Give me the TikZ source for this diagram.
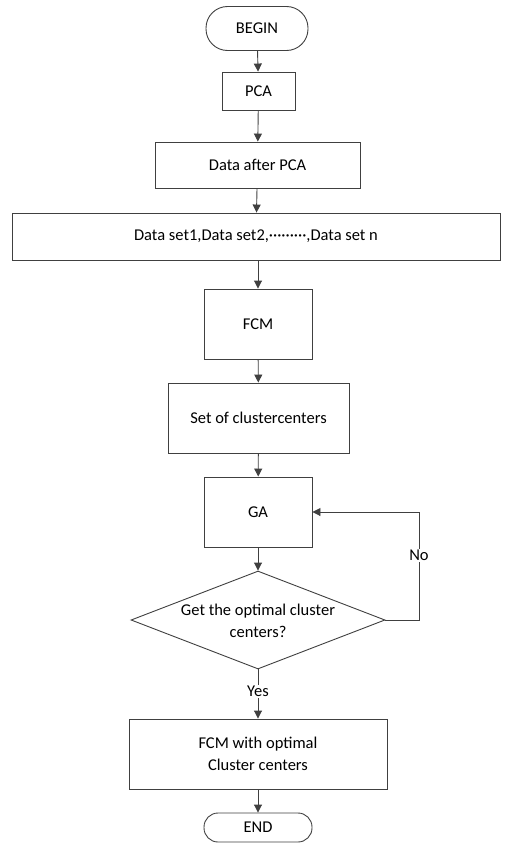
\documentclass[tikz,border=0pt]{standalone}
\usepackage{fontspec}
\setmainfont{Carlito}
\usetikzlibrary{arrows.meta,shapes.geometric,shadows}
\definecolor{ln}{HTML}{404040}
\begin{document}
\begin{tikzpicture}[x=1pt,y=-1pt,
  every node/.style={font=\fontsize{16.5}{22}\selectfont, text=black},
  box/.style={draw=ln, line width=0.9pt, fill=white, rectangle, inner sep=0pt, align=center,
     drop shadow={shadow xshift=1.2pt, shadow yshift=-1.2pt, fill=black!30, opacity=0.6}},
  term/.style={draw=ln, line width=0.9pt, fill=white, rectangle, inner sep=0pt},
  arr/.style={draw=ln, line width=0.9pt, -{Triangle[width=8pt,length=8pt]}},
  lab/.style={fill=white, inner sep=1pt}]
\useasboundingbox (0,0) rectangle (505,862);
\node[term, rounded corners=21.5pt, minimum width=102pt, minimum height=44pt] (begin) at (257,28.5) {BEGIN};
\node[box, minimum width=73pt, minimum height=38pt] (pca) at (258.5,91) {PCA};
\node[box, minimum width=205pt, minimum height=46pt] (dap) at (257.5,165) {Data after PCA};
\node[box, minimum width=488pt, minimum height=47pt] (ds) at (256,236.5) {Data set1,Data set2,·········,Data set n};
\node[box, minimum width=108pt, minimum height=70pt] (fcm) at (258,324) {FCM};
\node[box, minimum width=181pt, minimum height=70pt] (set) at (258.5,418) {Set of clustercenters};
\node[box, minimum width=108pt, minimum height=70pt] (ga) at (258,512) {GA};
\node[draw=ln, line width=0.9pt, fill=white, diamond, inner sep=0pt, minimum width=254pt, minimum height=98pt, aspect=2.59] (dec) at (258,620) {};
\node[align=center] (dectxt) at (258,621) {Get the optimal cluster\\centers?};
\node[box, minimum width=258pt, minimum height=70pt] (fcmo) at (258,754) {FCM with optimal\\Cluster centers};
\node[term, rounded corners=14pt, minimum width=108pt, minimum height=29pt] (end) at (258,827.5) {END};
\coordinate (cr) at (419,620);
\coordinate (ct) at (419,512);
\draw[arr] (begin) -- (pca);
\draw[arr] (pca) -- (dap);
\draw[arr] (dap) -- (ds);
\draw[arr] (ds.south -| fcm.north) -- (fcm);
\draw[arr] (fcm) -- (set);
\draw[arr] (set) -- (ga);
\draw[arr] (ga) -- (dec);
\draw[arr] (dec.south) -- node[lab, pos=0.45] {Yes} (fcmo.north);
\draw[arr] (fcmo) -- (end);
\draw[arr] (dec.east) -- (cr) -- node[lab, pos=0.6] {No} (ct) -- (ga.east);
\end{tikzpicture}
\end{document}
